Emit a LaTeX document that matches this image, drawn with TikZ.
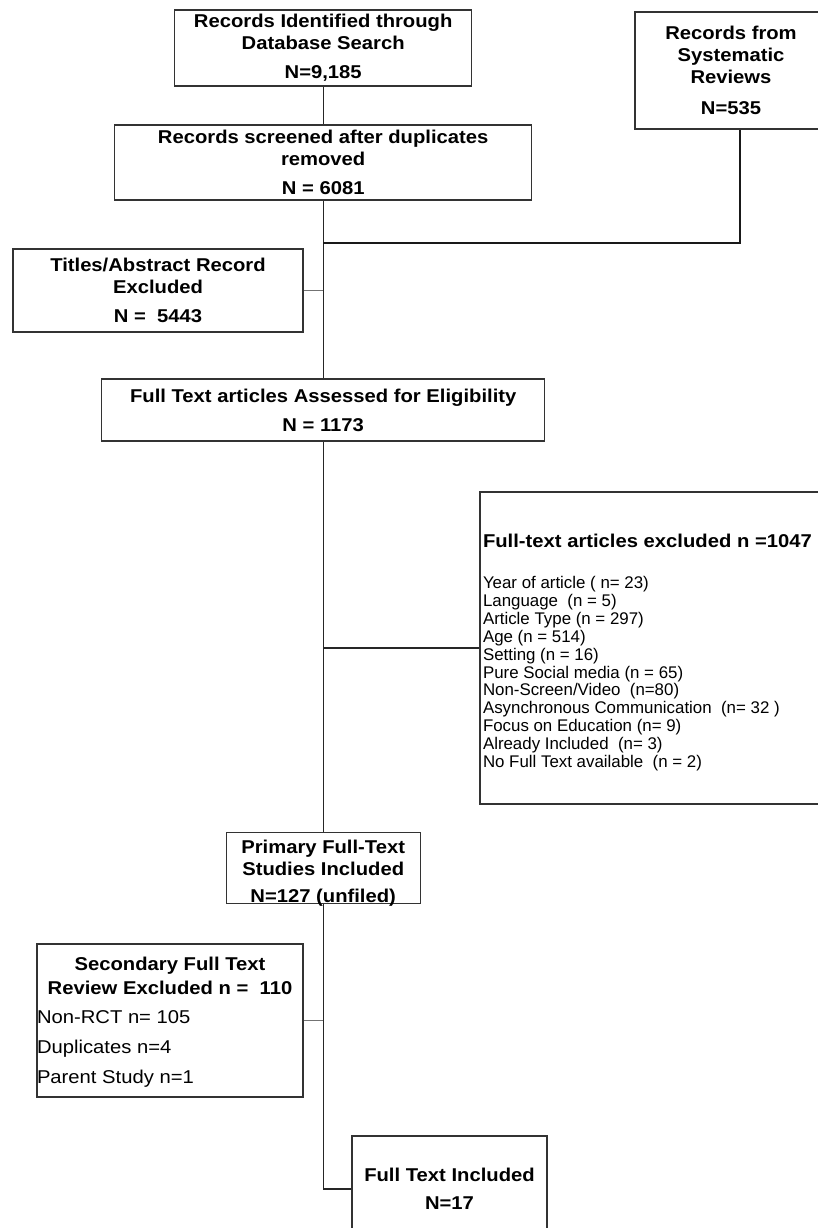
\documentclass[tikz,border=0pt]{standalone}
\usepackage{fontspec}
\setmainfont{Liberation Sans}[FakeStretch=1.09]
\newfontfamily\plainsans{Liberation Sans}
\usepackage{tikz}

\begin{document}
\begin{tikzpicture}[
  box/.style={rectangle,draw=black!80,line width=0.9pt,inner sep=0pt,align=center,
    font=\fontsize{13.2}{15.6}\selectfont\bfseries},
  trunk/.style={line width=0.9pt,draw=black!85},
  sidelink/.style={line width=0.9pt,draw=black!55},
  thicklink/.style={line width=1.8pt,draw=black!90}]

\useasboundingbox (0,0) rectangle (20.425,30.7);

\node[box,minimum width=7.425cm,minimum height=1.9cm] at (8.08,29.5) (search) {Records Identified through\\ Database Search\\[5pt] N=9,185};
\node[box,minimum width=4.8cm,minimum height=2.925cm] at (18.275,28.9375) (reviews) {Records from\\ Systematic\\ Reviews\\[7pt] N=535};
\node[box,minimum width=10.425cm,minimum height=1.875cm] at (8.08,26.6375) (screened) {Records screened after duplicates\\ removed\\[5pt] N = 6081};
\node[box,minimum width=7.25cm,minimum height=2.075cm] at (3.95,23.4375) (titlesexcl) {Titles/Abstract Record\\ Excluded\\[5pt] N = \ 5443};
\node[box,minimum width=11.075cm,minimum height=1.55cm] at (8.08,20.45) (assessed) {Full Text articles Assessed for Eligibility\\[5pt] N = 1173};

\node[box,minimum width=8.75cm,minimum height=7.8cm,align=none] at (16.375,14.5) (ftexcl) {\raisebox{-3pt}[\height][\depth]{\parbox{8.6cm}{\raggedright
  Full-text articles excluded n =1047\\[17pt]
  \mdseries\plainsans\fontsize{12}{12.7}\selectfont Year of article ( n= 23)\\ Language \ (n = 5)\\ Article Type (n = 297)\\ Age (n = 514)\\ Setting (n = 16)\\
  Pure Social media (n = 65)\\ Non-Screen/Video \ (n=80)\\ Asynchronous Communication \ (n= 32 )\\ Focus on Education (n= 9)\\
  Already Included \ (n= 3)\\ No Full Text available \ (n = 2)\par}}};

\node[box,minimum width=4.85cm,minimum height=1.75cm,align=none] at (8.08,9.0) (primary) {\raisebox{-4.3pt}[\height][\depth]{\begin{tabular}{@{}c@{}}Primary Full-Text\\ Studies Included\\[3.6pt] N=127 (unfiled)\end{tabular}}};
\node[box,minimum width=6.65cm,minimum height=3.825cm,align=none,font=\fontsize{13.2}{16.4}\selectfont\bfseries] at (4.25,5.1875) (secondexcl) {\raisebox{-1.5pt}[\height][\depth]{\parbox{6.65cm}{{\centering Secondary Full Text\\ Review Excluded n = \ 110\par}
  \mdseries\raggedright\fontsize{13.2}{21.3}\selectfont Non-RCT n= 105\\ Duplicates n=4\\ Parent Study n=1\par}}};
\node[box,minimum width=4.875cm,minimum height=2.65cm] at (11.2375,0.975) (included) {Full Text Included\\[4.3pt] N=17};

\coordinate (merge) at (8.08,24.625);
\coordinate (bend) at (18.5,24.625);

\draw[trunk] (search) -- (screened);
\draw[trunk] (screened) -- (assessed);
\draw[trunk] (assessed) -- (primary);
\draw[trunk] (primary.south) |- (included.west);

\draw[thicklink] (reviews.south -| bend) -- (bend) -- (merge);

\draw[sidelink] (titlesexcl.east) -- (titlesexcl.east -| screened.south);
\draw[trunk] (ftexcl.west) -- (ftexcl.west -| assessed.south);
\draw[sidelink] (secondexcl.east) -- (secondexcl.east -| primary.south);

\end{tikzpicture}
\end{document}
